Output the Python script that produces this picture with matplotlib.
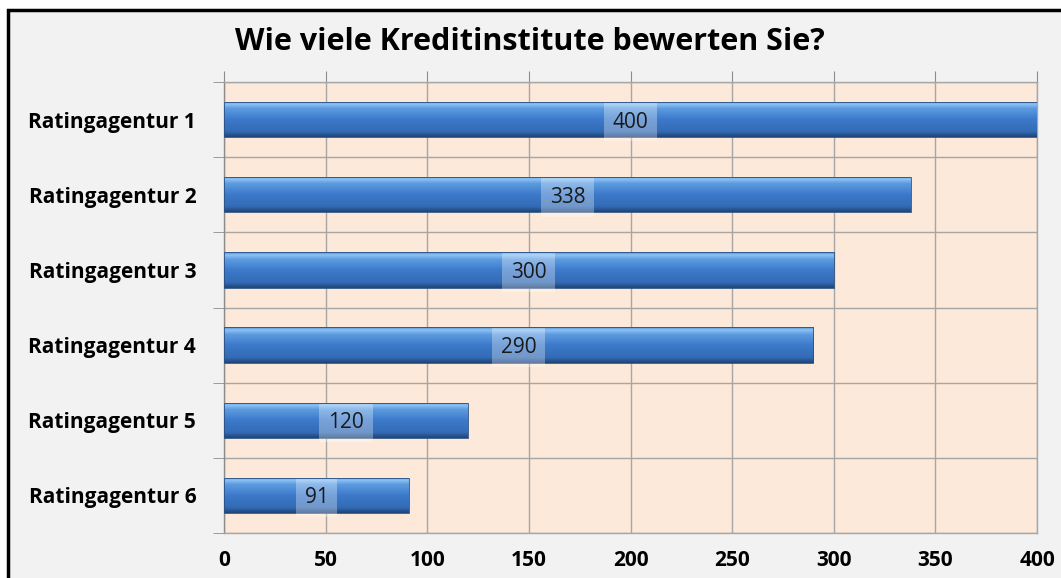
import matplotlib
matplotlib.use('Agg')

from matplotlib import pyplot as plt
from matplotlib.patches import Rectangle
from matplotlib.colors import LinearSegmentedColormap
import numpy as np

categories = ['Ratingagentur 1', 'Ratingagentur 2', 'Ratingagentur 3',
              'Ratingagentur 4', 'Ratingagentur 5', 'Ratingagentur 6']
values = [400, 338, 300, 290, 120, 91]
xticks = [0, 50, 100, 150, 200, 250, 300, 350, 400]
title = 'Wie viele Kreditinstitute bewerten Sie?'

plt.rcParams['font.family'] = ['Open Sans', 'DejaVu Sans']

W, H = 1061, 578
fig = plt.figure(figsize=(W / 100, H / 100), dpi=100, facecolor='white')

# grey chart area with black frame
fig.patches.append(Rectangle((8 / W, -0.1), 1.2, (H - 10) / H + 0.1,
                             transform=fig.transFigure, facecolor='#f2f2f2',
                             edgecolor='black', linewidth=2.5, zorder=-10))

ax = fig.add_axes([224 / W, (H - 533) / H, (1037 - 224) / W, (533 - 82) / H])
ax.set_facecolor('#fde9d9')

y = np.arange(len(categories))
bars = ax.barh(y, values, height=0.47, color='#3b76c4', zorder=3)

# light at the top, dark at the bottom
cmap = LinearSegmentedColormap.from_list('bar', [
    (0.0, '#5a93d8'), (0.08, '#8cc3f5'), (0.2, '#5d9be0'),
    (0.5, '#3d7acb'), (0.85, '#336bb5'), (1.0, '#1f4477')])
grad = np.linspace(0, 1, 100).reshape(-1, 1)
for b in bars:
    x0, y0, w, h = b.get_x(), b.get_y(), b.get_width(), b.get_height()
    im = ax.imshow(grad, cmap=cmap, aspect='auto', origin='upper',
                   extent=[x0, x0 + w, y0 + h, y0], zorder=3)
    im.set_clip_path(b)
    b.set_edgecolor('#2a4f80')
    b.set_linewidth(0.6)
    b.set_facecolor('none')
    b.set_zorder(4)

for yi, v in zip(y, values):
    ax.text(v / 2, yi, str(v), ha='center', va='center_baseline', fontsize=15,
            color='#1a1a1a', zorder=5,
            bbox=dict(boxstyle='square,pad=0.42', facecolor='white',
                      alpha=0.3, edgecolor='none'))

ax.set_xlim(0, 400)
ax.set_ylim(len(categories) - 0.5, -0.5)
ax.set_xticks(xticks)
ax.set_xticklabels([str(t) for t in xticks], fontsize=15, fontweight='bold')
ax.set_yticks(y)
ax.set_yticklabels(categories, fontsize=15, fontweight='bold')
ax.set_yticks(np.arange(-0.5, len(categories)), minor=True)

ax.tick_params(axis='y', which='major', length=0, pad=20)
ax.tick_params(axis='y', which='minor', length=8, color='#8c8c8c')
ax.tick_params(axis='x', top=True, bottom=False, labeltop=False,
               labelbottom=True, length=8, color='#8c8c8c', pad=4)

ax.grid(axis='x', which='major', color='#a6a6a6', linewidth=1, zorder=1)
ax.grid(axis='y', which='minor', color='#a6a6a6', linewidth=1, zorder=1)
ax.set_axisbelow(True)
for s in ax.spines.values():
    s.set_color('#a6a6a6')
    s.set_linewidth(1)
ax.spines['left'].set_color('#8c8c8c')

fig.text(530 / W, 1 - 42 / H, title, ha='center', va='center',
         fontsize=22, fontweight='bold')

fig.savefig('out.png', dpi=100, facecolor=fig.get_facecolor())
